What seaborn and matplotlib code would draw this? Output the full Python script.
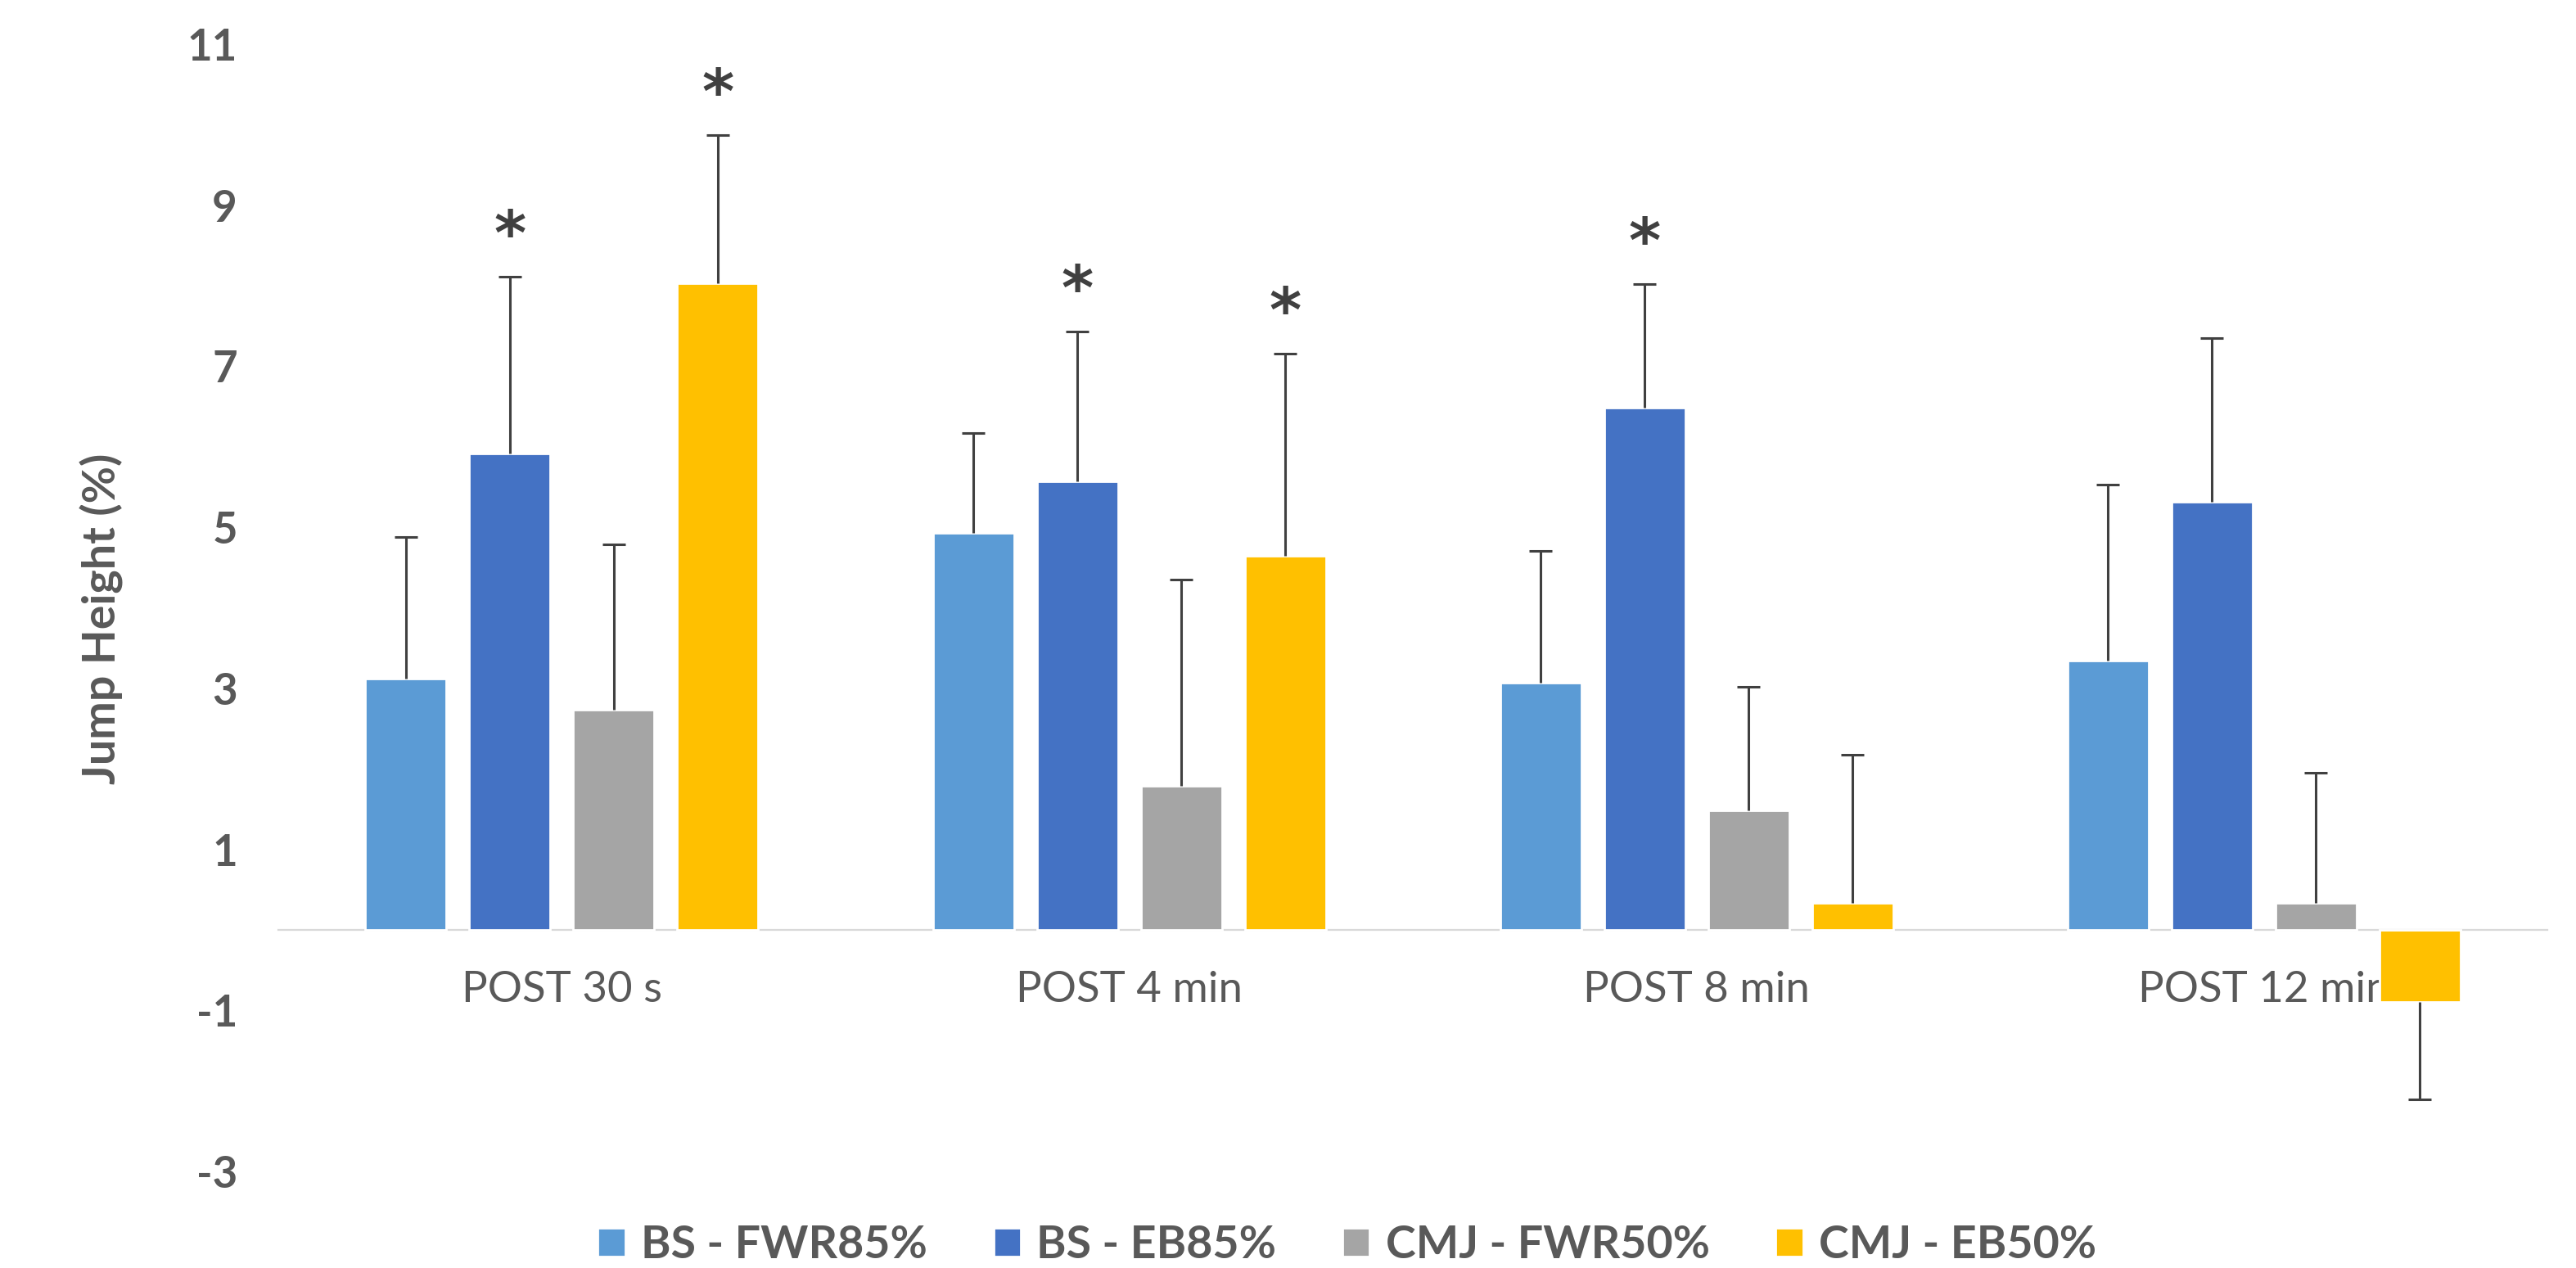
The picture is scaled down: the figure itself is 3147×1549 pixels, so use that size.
import matplotlib
matplotlib.use("Agg")
import matplotlib.pyplot as plt
import seaborn as sns
import pandas as pd
import numpy as np

# ---- data ----
categories = ["POST 30 s", "POST 4 min", "POST 8 min", "POST 12 min"]
series = ["BS - FWR85%", "BS - EB85%", "CMJ - FWR50%", "CMJ - EB50%"]

bs_fwr85 = [3.12, 4.93, 3.07, 3.34]
bs_fwr85_sd = [1.76, 1.24, 1.64, 2.19]
bs_eb85 = [5.92, 5.57, 6.48, 5.32]
bs_eb85_sd = [2.19, 1.86, 1.54, 2.03]
cmj_fwr50 = [2.73, 1.79, 1.48, 0.33]
cmj_fwr50_sd = [2.06, 2.56, 1.54, 1.62]
cmj_eb50 = [8.03, 4.64, 0.33, -0.90]
cmj_eb50_sd = [1.84, 2.52, 1.84, 1.21]

sig_bs_fwr85 = [False, False, False, False]
sig_bs_eb85 = [True, True, True, False]
sig_cmj_fwr50 = [False, False, False, False]
sig_cmj_eb50 = [True, True, False, False]

yticks = [-3, -1, 1, 3, 5, 7, 9, 11]
colors = ["#5B9BD5", "#4472C4", "#A5A5A5", "#FFC000"]

values = [bs_fwr85, bs_eb85, cmj_fwr50, cmj_eb50]
sds = [bs_fwr85_sd, bs_eb85_sd, cmj_fwr50_sd, cmj_eb50_sd]
sigs = [sig_bs_fwr85, sig_bs_eb85, sig_cmj_fwr50, sig_cmj_eb50]

rows = []
for s, vals in zip(series, values):
    for c, v in zip(categories, vals):
        rows.append({"time": c, "condition": s, "value": v})
df = pd.DataFrame(rows)

sns.set_theme(style="white")
plt.rcParams["font.family"] = ["Lato", "DejaVu Sans"]

text_col = "#595959"
fig = plt.figure(figsize=(15.735, 7.745), dpi=200)
ax = fig.add_axes([0.108, 0.0762, 0.881, 0.889])

sns.barplot(data=df, x="time", y="value", hue="condition",
            order=categories, hue_order=series, palette=colors,
            saturation=1, width=0.733, gap=0.22, errorbar=None,
            ax=ax, zorder=2)

# spines first (repositioning a spine resets tick objects)
for sp in ["top", "right", "left"]:
    ax.spines[sp].set_visible(False)
ax.spines["bottom"].set_position(("data", 0))
ax.spines["bottom"].set_color("#D9D9D9")
ax.spines["bottom"].set_linewidth(0.8)
ax.spines["bottom"].set_zorder(1)
ax.grid(False)

err_col = "#404040"
for cont, vals, sd, sg in zip(ax.containers, values, sds, sigs):
    for bar, v, e, star in zip(cont, vals, sd, sg):
        x = bar.get_x() + bar.get_width() / 2
        end = v + np.sign(v) * e
        ax.vlines(x, v, end, color=err_col, lw=1.1, zorder=3)
        ax.plot([x], [end], marker="_", ms=10, mew=1.1, color=err_col, zorder=3)
        if star:
            ax.annotate("*", xy=(x, end), xytext=(0, 17), textcoords="offset points",
                        ha="center", va="center", fontsize=27, fontweight="bold",
                        color=err_col, family=["DejaVu Sans"])

ax.set_ylim(-3, 11)
ax.set_xlim(-0.5, 3.5)
ax.set_yticks(yticks)
ax.set_yticklabels([str(t) for t in yticks], fontweight="bold", color=text_col, fontsize=19)
ax.set_xticks(range(len(categories)))
ax.set_xticklabels(categories, color=text_col, fontsize=19)
ax.tick_params(axis="x", length=0, pad=18)
ax.tick_params(axis="y", length=0, pad=18)
ax.set_xlabel("")
ax.set_ylabel("Jump Height (%)", fontweight="bold", color=text_col, fontsize=20)
ax.yaxis.set_label_coords(-0.068, 0.49)

ax.legend(loc="center", bbox_to_anchor=(0.523, 0.018), bbox_transform=fig.transFigure,
          ncol=4, frameon=False, handlelength=0.6, handleheight=0.6,
          handletextpad=0.35, columnspacing=1.45,
          prop={"size": 20, "weight": "bold"}, labelcolor=text_col)

fig.savefig("out.png", dpi=200)
